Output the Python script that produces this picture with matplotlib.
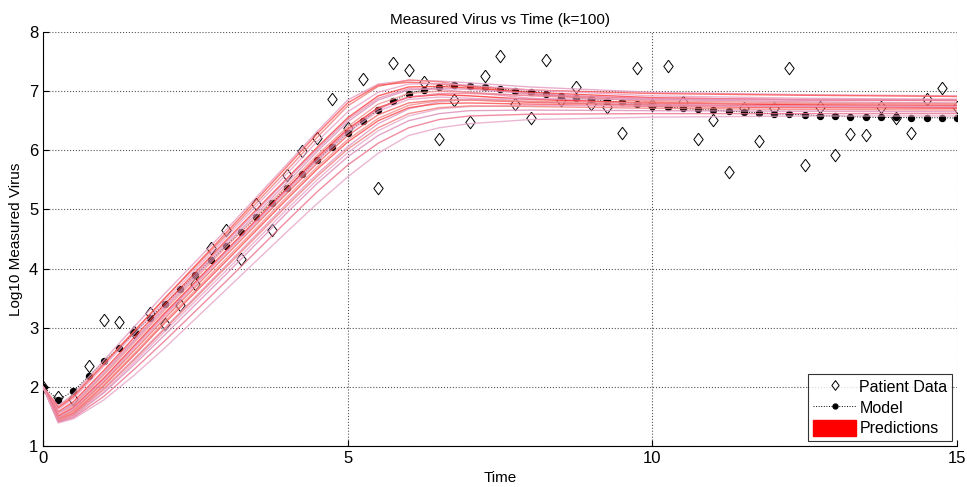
import numpy as np
import matplotlib
matplotlib.use("Agg")
from matplotlib import pyplot as plt
from matplotlib.patches import Patch
from matplotlib.lines import Line2D

plt.rcParams['font.family'] = ['Liberation Sans', 'DejaVu Sans']

# Tiempos de muestreo (cada 0.25)
tiempo = [i * 0.25 for i in range(61)]

# Datos del paciente (log10)
datosPaciente = [2.00, 1.82, 1.79, 2.35, 3.13, 3.10, 2.93, 3.25, 3.07, 3.38,
                 3.74, 4.34, 4.66, 4.16, 5.09, 4.66, 5.59, 5.98, 6.20, 6.86,
                 6.38, 7.20, 5.37, 7.47, 7.35, 7.16, 6.19, 6.85, 6.47, 7.26,
                 7.60, 6.78, 6.54, 7.53, 6.85, 7.07, 6.79, 6.73, 6.29, 7.39,
                 6.77, 7.42, 6.82, 6.19, 6.52, 5.63, 6.71, 6.16, 6.71, 7.39,
                 5.75, 6.73, 5.92, 6.28, 6.26, 6.74, 6.54, 6.30, 6.87, 7.06,
                 6.74]

# Modelo
modelo = [2.00, 1.78, 1.93, 2.18, 2.43, 2.66, 2.92, 3.16, 3.40, 3.65,
          3.89, 4.14, 4.38, 4.62, 4.87, 5.11, 5.36, 5.60, 5.84, 6.06,
          6.29, 6.50, 6.68, 6.83, 6.96, 7.02, 7.07, 7.10, 7.09, 7.07,
          7.04, 7.01, 6.99, 6.96, 6.92, 6.89, 6.86, 6.84, 6.81, 6.79,
          6.75, 6.73, 6.71, 6.69, 6.68, 6.66, 6.65, 6.63, 6.62, 6.61,
          6.60, 6.585, 6.58, 6.57, 6.56, 6.555, 6.555, 6.55, 6.55, 6.55,
          6.545]

# Predicciones (curvas)
tiempoPred = [0, 0.25, 0.5, 1, 1.5, 2, 3, 4, 4.5, 5, 5.5, 6, 6.5, 7, 8, 10, 12.5, 15]
predicciones = [
    [2.0, 1.68, 1.88, 2.45, 3.02, 3.58, 4.65, 5.76, 6.32, 6.85, 7.12, 7.18, 7.17, 7.14, 7.07, 6.98, 6.94, 6.92],
    [2.0, 1.66, 1.85, 2.40, 2.95, 3.50, 4.56, 5.66, 6.22, 6.75, 7.08, 7.19, 7.16, 7.08, 6.95, 6.82, 6.76, 6.74],
    [2.0, 1.64, 1.83, 2.38, 2.94, 3.50, 4.60, 5.72, 6.28, 6.80, 7.10, 7.15, 7.12, 7.08, 7.02, 6.96, 6.93, 6.91],
    [2.0, 1.62, 1.80, 2.35, 2.90, 3.45, 4.52, 5.60, 6.15, 6.65, 6.98, 7.12, 7.13, 7.10, 7.02, 6.92, 6.88, 6.86],
    [2.0, 1.58, 1.75, 2.28, 2.84, 3.40, 4.47, 5.52, 6.05, 6.55, 6.92, 7.07, 7.08, 7.05, 6.98, 6.89, 6.85, 6.84],
    [2.0, 1.56, 1.72, 2.25, 2.80, 3.36, 4.44, 5.50, 6.02, 6.52, 6.88, 7.04, 7.03, 6.98, 6.88, 6.78, 6.74, 6.72],
    [2.0, 1.55, 1.70, 2.22, 2.78, 3.33, 4.40, 5.45, 5.98, 6.48, 6.85, 7.02, 7.05, 7.03, 6.96, 6.86, 6.82, 6.80],
    [2.0, 1.52, 1.68, 2.20, 2.75, 3.30, 4.36, 5.40, 5.92, 6.40, 6.78, 6.96, 7.00, 6.98, 6.92, 6.84, 6.80, 6.79],
    [2.0, 1.50, 1.65, 2.15, 2.70, 3.25, 4.30, 5.35, 5.88, 6.36, 6.72, 6.90, 6.94, 6.92, 6.86, 6.80, 6.77, 6.76],
    [2.0, 1.49, 1.64, 2.13, 2.68, 3.22, 4.28, 5.33, 5.85, 6.33, 6.70, 6.90, 6.96, 6.96, 6.93, 6.88, 6.86, 6.86],
    [2.0, 1.48, 1.62, 2.10, 2.66, 3.20, 4.26, 5.30, 5.82, 6.30, 6.66, 6.86, 6.90, 6.88, 6.82, 6.77, 6.75, 6.74],
    [2.0, 1.46, 1.60, 2.08, 2.62, 3.16, 4.22, 5.27, 5.78, 6.25, 6.60, 6.80, 6.85, 6.85, 6.81, 6.76, 6.74, 6.73],
    [2.0, 1.45, 1.55, 1.98, 2.48, 3.00, 4.05, 5.10, 5.60, 6.06, 6.45, 6.70, 6.82, 6.86, 6.87, 6.86, 6.85, 6.85],
    [2.0, 1.44, 1.56, 2.02, 2.54, 3.08, 4.12, 5.17, 5.68, 6.14, 6.50, 6.72, 6.79, 6.80, 6.78, 6.74, 6.72, 6.71],
    [2.0, 1.44, 1.57, 2.04, 2.57, 3.11, 4.16, 5.21, 5.72, 6.18, 6.54, 6.76, 6.84, 6.85, 6.83, 6.80, 6.79, 6.78],
    [2.0, 1.43, 1.52, 1.92, 2.42, 2.94, 3.96, 5.00, 5.50, 5.96, 6.33, 6.58, 6.70, 6.74, 6.76, 6.75, 6.74, 6.74],
    [2.0, 1.42, 1.53, 1.96, 2.46, 2.98, 4.02, 5.06, 5.56, 6.02, 6.38, 6.62, 6.72, 6.75, 6.74, 6.71, 6.69, 6.68],
    [2.0, 1.41, 1.50, 1.90, 2.38, 2.88, 3.90, 4.94, 5.44, 5.89, 6.25, 6.50, 6.62, 6.67, 6.68, 6.67, 6.66, 6.65],
    [2.0, 1.40, 1.48, 1.84, 2.30, 2.78, 3.78, 4.80, 5.30, 5.75, 6.12, 6.38, 6.52, 6.58, 6.61, 6.62, 6.62, 6.62],
    [2.0, 1.39, 1.46, 1.78, 2.20, 2.66, 3.64, 4.62, 5.10, 5.55, 5.95, 6.25, 6.38, 6.45, 6.52, 6.56, 6.58, 6.58],
]
coloresPred = ['#e49ac0', '#f07878', '#ff5050', '#e8a2c6', '#ff3a3a', '#e58fb0',
               '#dd8fb8', '#f29090', '#ff2a2a', '#ef7d9a', '#e6a0c4', '#f06060',
               '#df96bd', '#ff4a4a', '#f48a8a', '#e9a6c8', '#f27a7a', '#dc8cb6',
               '#ee6f8a', '#e7a4c6']

fig = plt.figure(figsize=(9.67, 4.87), dpi=100)
ax = fig.add_axes([0.0445, 0.0842, 0.9452, 0.8501])

diamante = [(0, 1), (0.75, 0), (0, -1), (-0.75, 0), (0, 1)]

ax.plot(tiempo, datosPaciente, linestyle='none', marker=diamante, markersize=9,
        markerfacecolor='none', markeredgecolor='black', markeredgewidth=0.7, zorder=2)
ax.plot(tiempo, modelo, linestyle=':', color='black', linewidth=0.7, marker='o',
        markersize=4.3, markerfacecolor='black', markeredgecolor='black', zorder=3)

for curva, c in zip(predicciones, coloresPred):
    ax.plot(tiempoPred, curva, color=c, linewidth=1.0, alpha=0.8, zorder=4)

ax.set_xlim(0, 15)
ax.set_ylim(1, 8)
ax.set_xticks([0, 5, 10, 15])
ax.set_yticks(range(1, 9))
ax.grid(True, linestyle=':', color='#555555', linewidth=0.8)
ax.spines['top'].set_visible(False)
ax.spines['right'].set_visible(False)
ax.tick_params(direction='in', labelsize=12, length=4)
ax.set_title("Measured Virus vs Time (k=100)", fontsize=11)
ax.set_xlabel("Time", fontsize=11)
ax.set_ylabel("Log10 Measured Virus", fontsize=11)

manejadores = [
    Line2D([], [], linestyle='none', marker=diamante, markersize=7,
           markerfacecolor='none', markeredgecolor='black', markeredgewidth=0.7),
    Line2D([], [], linestyle=':', color='black', linewidth=0.7, marker='o',
           markersize=3.5, markerfacecolor='black'),
    Patch(facecolor='red', edgecolor='red'),
]
leg = ax.legend(manejadores, ['Patient Data', 'Model', 'Predictions'], loc='lower right',
                fontsize=11.5, frameon=True, fancybox=False, borderaxespad=0.3,
                handlelength=2.7, handleheight=1.1, handletextpad=0.2,
                labelspacing=0.3, borderpad=0.3)
leg.get_frame().set_edgecolor('black')
leg.get_frame().set_linewidth(0.8)

plt.savefig('out.png', dpi=100)
